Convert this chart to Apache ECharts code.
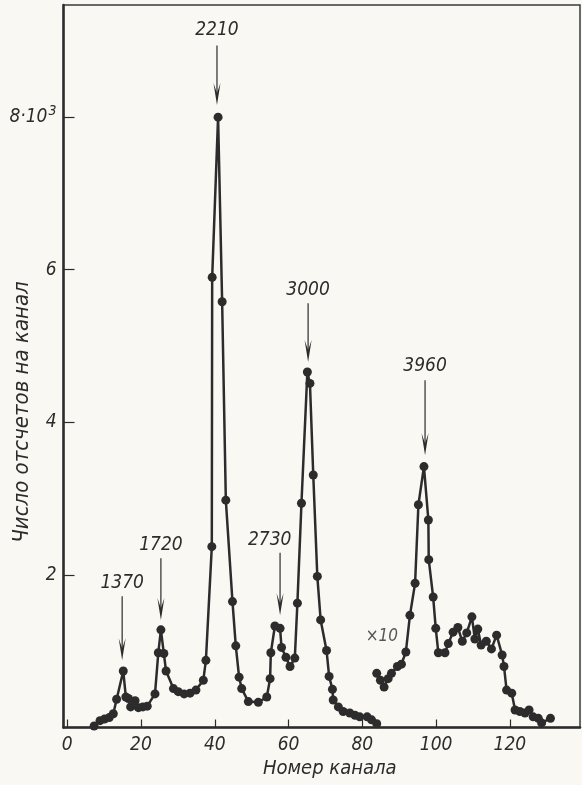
<!DOCTYPE html>
<html>
<head>
<meta charset="utf-8">
<script src="https://cdn.jsdelivr.net/npm/echarts@6/dist/echarts.min.js"></script>
<style>
html,body{margin:0;padding:0;background:#faf8f3;}
#c{width:582px;height:785px;}
</style>
</head>
<body>
<div id="c"></div>
<script>
// Main spectrum: [channel, counts ×10^3]
var mainSpectrum = [
 [7.3,0.02],[8.9,0.09],[10.1,0.11],[11.4,0.13],[12.5,0.18],[13.4,0.37],[15.2,0.74],[15.9,0.40],
 [16.6,0.38],[17.2,0.27],[18.4,0.35],[19.3,0.26],[20.5,0.27],[21.7,0.28],[23.8,0.44],[24.7,0.98],
 [25.4,1.28],[26.2,0.97],[26.8,0.74],[28.8,0.51],[30.1,0.47],[31.7,0.44],[33.3,0.45],[34.9,0.49],
 [36.9,0.62],[37.6,0.88],[39.2,2.37],[39.3,5.90],[40.9,8.0],[42.0,5.58],[43.0,2.98],[44.8,1.65],
 [45.7,1.07],[46.6,0.66],[47.3,0.51],[49.1,0.34],[51.8,0.33],[54.1,0.40],[55.0,0.64],[55.2,0.98],
 [56.3,1.33],[57.7,1.30],[58.1,1.05],[59.3,0.92],[60.4,0.80],[61.7,0.91],[62.4,1.63],[63.5,2.94],
 [65.1,4.66],[65.8,4.51],[66.7,3.31],[67.8,1.98],[68.7,1.41],[70.3,1.01],[71.0,0.67],[71.9,0.50],
 [72.1,0.36],[73.5,0.27],[74.8,0.21],[76.6,0.19],[78.0,0.16],[79.3,0.14],[81.3,0.14],[82.5,0.10],
 [83.9,0.05]
];
// High-channel part, plotted ×10
var scaledSpectrum = [
 [83.9,0.71],[84.9,0.62],[85.9,0.53],[87.0,0.64],[87.9,0.71],[89.5,0.80],[90.6,0.83],[91.8,0.99],
 [92.9,1.47],[94.3,1.89],[95.2,2.92],[96.7,3.42],[97.9,2.72],[98.0,2.20],[99.2,1.71],[99.9,1.30],
 [100.6,0.98],[102.4,0.98],[103.3,1.10],[104.6,1.25],[105.9,1.31],[107.1,1.13],[108.3,1.24],[109.7,1.45],
 [110.5,1.16],[111.3,1.29],[112.2,1.08],[113.6,1.13],[115.0,1.03],[116.4,1.21],[117.9,0.95],[118.4,0.80],
 [119.1,0.49],[120.5,0.45],[121.4,0.23],[122.7,0.21],[124.1,0.19],[125.2,0.23],[126.3,0.14],[127.7,0.12],
 [128.6,0.06],[131.0,0.12]
];
// Peak annotations (keV labels), arrow channel, arrow start, arrow tip, label channel, label level
var peakLabels = ['1370','1720','2210','2730','3000','3960'];
var peakArrowX = [14.9, 25.4, 40.6, 57.7, 65.3, 97.0];
var peakArrowFrom = [1.72, 2.22, 8.94, 2.29, 5.56, 4.55];
var peakArrowTo = [0.88, 1.41, 8.16, 1.47, 4.79, 3.57];
var peakTextX = [14.9, 25.4, 40.6, 54.9, 65.3, 97.0];
var peakTextY = [1.89, 2.39, 9.14, 2.46, 5.73, 4.74];
var scaleNote = ['×10'];
var scaleNoteX = [85.3];
var scaleNoteY = [1.19];
var xTicks = [0,20,40,60,80,100,120];
var yTicks = [2,4,6,8];
var yAxisTitle = 'Число отсчетов на канал';
var xAxisTitle = 'Номер канала';

var FONT = '"DejaVu Sans Condensed","Liberation Sans Narrow",sans-serif';
var INK = '#2c2c2c';

var annData = peakLabels.map(function(l,i){return [peakArrowX[i],peakArrowFrom[i],peakArrowTo[i],peakTextX[i],peakTextY[i]];});

var chart = echarts.init(document.getElementById('c'), null, {renderer:'canvas'});
chart.setOption({
  backgroundColor:'#faf8f3',
  animation:false,
  grid:{left:63.5,right:2,top:5,bottom:57.5,containLabel:false,outerBoundsMode:'none',
        show:true,borderColor:'#3a3a3a',borderWidth:1.5,backgroundColor:'transparent'},
  graphic:[{type:'text',x:22,y:412,rotation:Math.PI/2,
    style:{text:yAxisTitle,fill:INK,font:'italic 22px '+FONT,align:'center',verticalAlign:'middle'}}],
  xAxis:{
    type:'value',min:-1,max:139,
    axisLine:{show:true,onZero:false,lineStyle:{color:INK,width:2.5}},
    splitLine:{show:false},
    axisTick:{show:true,inside:true,length:8,lineStyle:{color:INK,width:1.2},customValues:xTicks},
    axisLabel:{color:INK,fontFamily:FONT,fontStyle:'italic',fontSize:19,margin:8,customValues:xTicks},
    name:xAxisTitle,nameLocation:'middle',nameGap:31,nameMoveOverlap:false,
    nameTextStyle:{color:INK,fontFamily:FONT,fontStyle:'italic',fontSize:20,padding:[0,0,0,16]}
  },
  yAxis:{
    type:'value',min:0,max:9.47,
    axisLine:{show:true,onZero:false,lineStyle:{color:INK,width:2.5}},
    splitLine:{show:false},
    axisTick:{show:true,inside:true,length:11,lineStyle:{color:INK,width:1.2},customValues:yTicks},
    axisLabel:{color:INK,fontFamily:FONT,fontStyle:'italic',fontSize:19,margin:7,customValues:yTicks,
      formatter:function(v){return v===8?'8·10{sup|3}':String(v);},
      rich:{sup:{fontFamily:FONT,fontStyle:'italic',fontSize:14,verticalAlign:'bottom',padding:[0,0,12,1],color:INK}}}
  },
  series:[
    {type:'line',data:mainSpectrum,symbol:'circle',symbolSize:9,showSymbol:true,
     lineStyle:{color:INK,width:2.5},itemStyle:{color:INK,borderWidth:0}},
    {type:'line',data:scaledSpectrum,symbol:'circle',symbolSize:9,showSymbol:true,
     lineStyle:{color:INK,width:2.5},itemStyle:{color:INK,borderWidth:0}},
    {type:'custom',data:annData,silent:true,
     renderItem:function(params,api){
       var p0=api.coord([api.value(0),api.value(1)]);
       var p1=api.coord([api.value(0),api.value(2)]);
       var pt=api.coord([api.value(3),api.value(4)]);
       return {type:'group',children:[
         {type:'line',shape:{x1:p0[0],y1:p0[1],x2:p1[0],y2:p1[1]-8},style:{stroke:INK,lineWidth:1.2}},
         {type:'polygon',shape:{points:[[p1[0]-3.5,p1[1]-22],[p1[0],p1[1]],[p1[0]+3.5,p1[1]-22],[p1[0],p1[1]-12]]},style:{fill:INK}},
         {type:'text',x:pt[0],y:pt[1],style:{text:peakLabels[params.dataIndex],fill:INK,font:'italic 19px '+FONT,align:'center',verticalAlign:'middle'}}
       ]};
     }},
    {type:'scatter',data:scaleNote.map(function(t,i){return [scaleNoteX[i],scaleNoteY[i]];}),symbolSize:0,silent:true,
     label:{show:true,position:'inside',formatter:function(p){return scaleNote[p.dataIndex];},color:INK,fontFamily:FONT,fontStyle:'italic',fontSize:17}}
  ]
});
</script>
</body>
</html>
